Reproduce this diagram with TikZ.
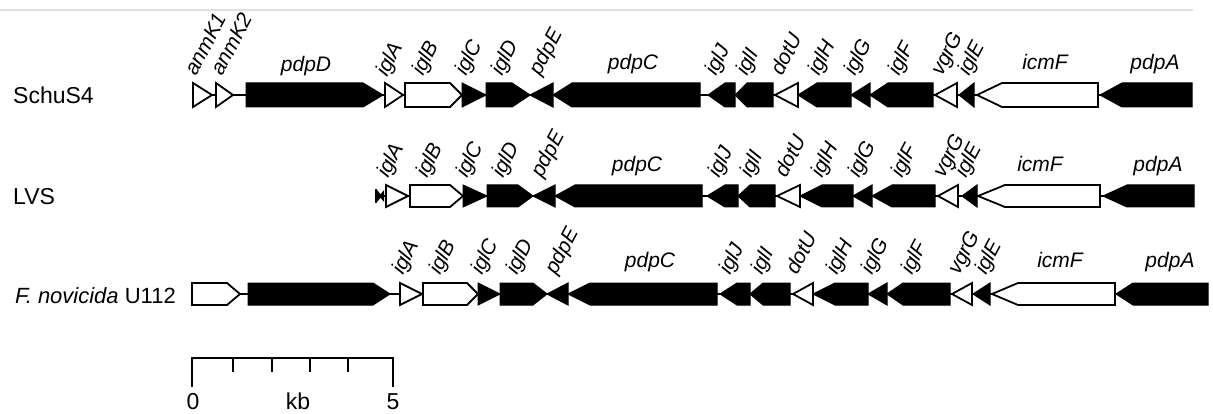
\documentclass[tikz,border=0pt]{standalone}
\usepackage{fontspec}
\setmainfont{Liberation Sans}
\tikzset{
  hollow/.style={draw=black, fill=white, line width=1.8pt, line join=miter},
  filled/.style={draw=black, fill=black, line width=1pt, line join=miter},
  backbone/.style={line width=1.5pt},
  rlab/.style={rotate=62, anchor=base west, inner sep=0pt, font=\fontsize{21}{21}\selectfont\itshape},
  hlab/.style={anchor=base, inner sep=0pt, font=\fontsize{21}{21}\selectfont\itshape},
  rowlab/.style={anchor=base west, inner sep=0pt, font=\fontsize{23}{23}\selectfont},
  sclab/.style={anchor=base, inner sep=0pt, font=\fontsize{23}{23}\selectfont},
  scalebar/.style={line width=2.4pt},
  tick/.style={line width=1.8pt},
}
% right-pointing arrow: style, x1, headstart, tip, y
\newcommand\gR[5]{\path[#1] (#2,#5-\hh) -- (#3,#5-\hh) -- (#4,#5) -- (#3,#5+\hh) -- (#2,#5+\hh) -- cycle;}
% left-pointing arrow: style, tip, headend, x2, y
\newcommand\gL[5]{\path[#1] (#4,#5-\hh) -- (#3,#5-\hh) -- (#2,#5) -- (#3,#5+\hh) -- (#4,#5+\hh) -- cycle;}
% triangles: style, x1, x2, y
\newcommand\tR[4]{\path[#1] (#2,#4-\hh) -- (#3,#4) -- (#2,#4+\hh) -- cycle;}
\newcommand\tL[4]{\path[#1] (#3,#4-\hh) -- (#2,#4) -- (#3,#4+\hh) -- cycle;}
\newcommand\RL[4]{\node[rlab] (#1) at (#2,#3) {#4};}
\newcommand\HL[4]{\node[hlab] (#1) at (#2,#3) {#4};}
\begin{document}
\begin{tikzpicture}[x=1pt,y=-1pt]
\useasboundingbox (0,0) rectangle (1213,414);
\draw[black!12, line width=2pt] (0,10) -- (1193,10);

% ---------------- Row 1: SchuS4 ----------------
\def\hh{12}
\node[rowlab] (r1) at (13,104) {SchuS4};
\draw[backbone] (193,95) -- (1192,95);
\tR{hollow}{193}{212}{95}
\tR{hollow}{216}{233}{95}
\gR{filled}{246}{363}{383}{95}
\tR{hollow}{385}{403}{95}
\gR{hollow}{405}{450}{462}{95}
\tR{filled}{462}{486}{95}
\gR{filled}{486}{512}{530}{95}
\tL{filled}{530}{553}{95}
\gL{filled}{553}{572}{700}{95}
\gL{filled}{708}{725}{735}{95}
\gL{filled}{735}{747}{773}{95}
\tL{hollow}{775}{798}{95}
\gL{filled}{798}{817}{851}{95}
\tL{filled}{851}{870}{95}
\gL{filled}{870}{888}{933}{95}
\tL{hollow}{935}{957}{95}
\tL{filled}{959}{974}{95}
\gL{hollow}{977}{1002}{1098}{95}
\gL{filled}{1100}{1122}{1192}{95}
\RL{a1}{196}{77}{anmK1}
\RL{a2}{222}{77}{anmK2}
\RL{a3}{387}{78}{iglA}
\RL{a4}{423}{77}{iglB}
\RL{a5}{466}{77}{iglC}
\RL{a6}{502}{77}{iglD}
\RL{a7}{540}{77}{pdpE}
\RL{a8}{716}{77}{iglJ}
\RL{a9}{747}{77}{iglI}
\RL{a10}{782}{77}{dotU}
\RL{a11}{819}{77}{iglH}
\RL{a12}{855}{77}{iglG}
\RL{a13}{899}{77}{iglF}
\RL{a14}{942}{77}{vgrG}
\RL{a15}{969}{77}{iglE}
\HL{h1}{306}{72}{pdpD}
\HL{h2}{633}{70}{pdpC}
\HL{h3}{1045}{70}{icmF}
\HL{h4}{1155}{70}{pdpA}

% ---------------- Row 2: LVS ----------------
\def\hh{11}
\node[rowlab] (r2) at (13,205) {LVS};
\draw[backbone] (375,196) -- (1194,196);
\fill (375,189) rectangle (377,203);
\fill (377,190) -- (382,196) -- (377,202) -- cycle;
\fill (384,190) -- (379,196) -- (384,202) -- cycle;
\tR{hollow}{386}{408}{196}
\gR{hollow}{410}{450}{463}{196}
\tR{filled}{463}{487}{196}
\gR{filled}{487}{518}{533}{196}
\tL{filled}{533}{555}{196}
\gL{filled}{555}{575}{702}{196}
\gL{filled}{707}{725}{738}{196}
\gL{filled}{738}{750}{775}{196}
\tL{hollow}{777}{800}{196}
\gL{filled}{800}{822}{853}{196}
\tL{filled}{853}{872}{196}
\gL{filled}{872}{892}{935}{196}
\tL{hollow}{938}{958}{196}
\tL{filled}{962}{977}{196}
\gL{hollow}{978}{1005}{1100}{196}
\gL{filled}{1103}{1127}{1194}{196}
\RL{b3}{388}{179}{iglA}
\RL{b4}{427}{179}{iglB}
\RL{b5}{467}{179}{iglC}
\RL{b6}{503}{179}{iglD}
\RL{b7}{542}{179}{pdpE}
\RL{b8}{719}{179}{iglJ}
\RL{b9}{751}{179}{iglI}
\RL{b10}{786}{179}{dotU}
\RL{b11}{822}{179}{iglH}
\RL{b12}{859}{179}{iglG}
\RL{b13}{902}{179}{iglF}
\RL{b14}{944}{179}{vgrG}
\RL{b15}{966}{179}{iglE}
\HL{k2}{637}{172}{pdpC}
\HL{k3}{1040}{172}{icmF}
\HL{k4}{1158}{172}{pdpA}

% ---------------- Row 3: F. novicida U112 ----------------
\node[rowlab, font=\fontsize{22}{22}\selectfont] (r3) at (15,303) {\itshape F. novicida\upshape{} U112};
\draw[backbone] (192,294) -- (1208,294);
\gR{hollow}{192}{227}{240}{294}
\gR{filled}{248}{373}{390}{294}
\tR{hollow}{400}{422}{294}
\gR{hollow}{423}{467}{478}{294}
\tR{filled}{478}{500}{294}
\gR{filled}{500}{533}{547}{294}
\tL{filled}{547}{568}{294}
\gL{filled}{568}{590}{717}{294}
\gL{filled}{720}{737}{750}{294}
\gL{filled}{750}{763}{790}{294}
\tL{hollow}{793}{813}{294}
\gL{filled}{813}{835}{868}{294}
\tL{filled}{868}{887}{294}
\gL{filled}{887}{903}{950}{294}
\tL{hollow}{952}{972}{294}
\tL{filled}{973}{990}{294}
\gL{hollow}{992}{1018}{1115}{294}
\gL{filled}{1116}{1133}{1208}{294}
\RL{c3}{403}{276}{iglA}
\RL{c4}{440}{276}{iglB}
\RL{c5}{482}{276}{iglC}
\RL{c6}{517}{276}{iglD}
\RL{c7}{556}{276}{pdpE}
\RL{c8}{730}{276}{iglJ}
\RL{c9}{762}{276}{iglI}
\RL{c10}{797}{276}{dotU}
\RL{c11}{837}{276}{iglH}
\RL{c12}{872}{276}{iglG}
\RL{c13}{912}{276}{iglF}
\RL{c14}{959}{276}{vgrG}
\RL{c15}{986}{276}{iglE}
\HL{m2}{650}{267}{pdpC}
\HL{m3}{1060}{267}{icmF}
\HL{m4}{1170}{267}{pdpA}

% ---------------- scale bar ----------------
\coordinate (s0) at (192,387);
\coordinate (s0t) at (192,358);
\coordinate (s5t) at (393,358);
\coordinate (s5) at (393,387);
\draw[scalebar, line join=miter] (s0) -- (s0t) -- (s5t) -- (s5);
\foreach \tx in {233,272,310,348} {\draw[tick] (\tx,358) -- (\tx,372);}
\node[sclab] (l0) at (193,409) {0};
\node[sclab] (lkb) at (298,409) {kb};
\node[sclab] (l5) at (393,409) {5};
\end{tikzpicture}
\end{document}
